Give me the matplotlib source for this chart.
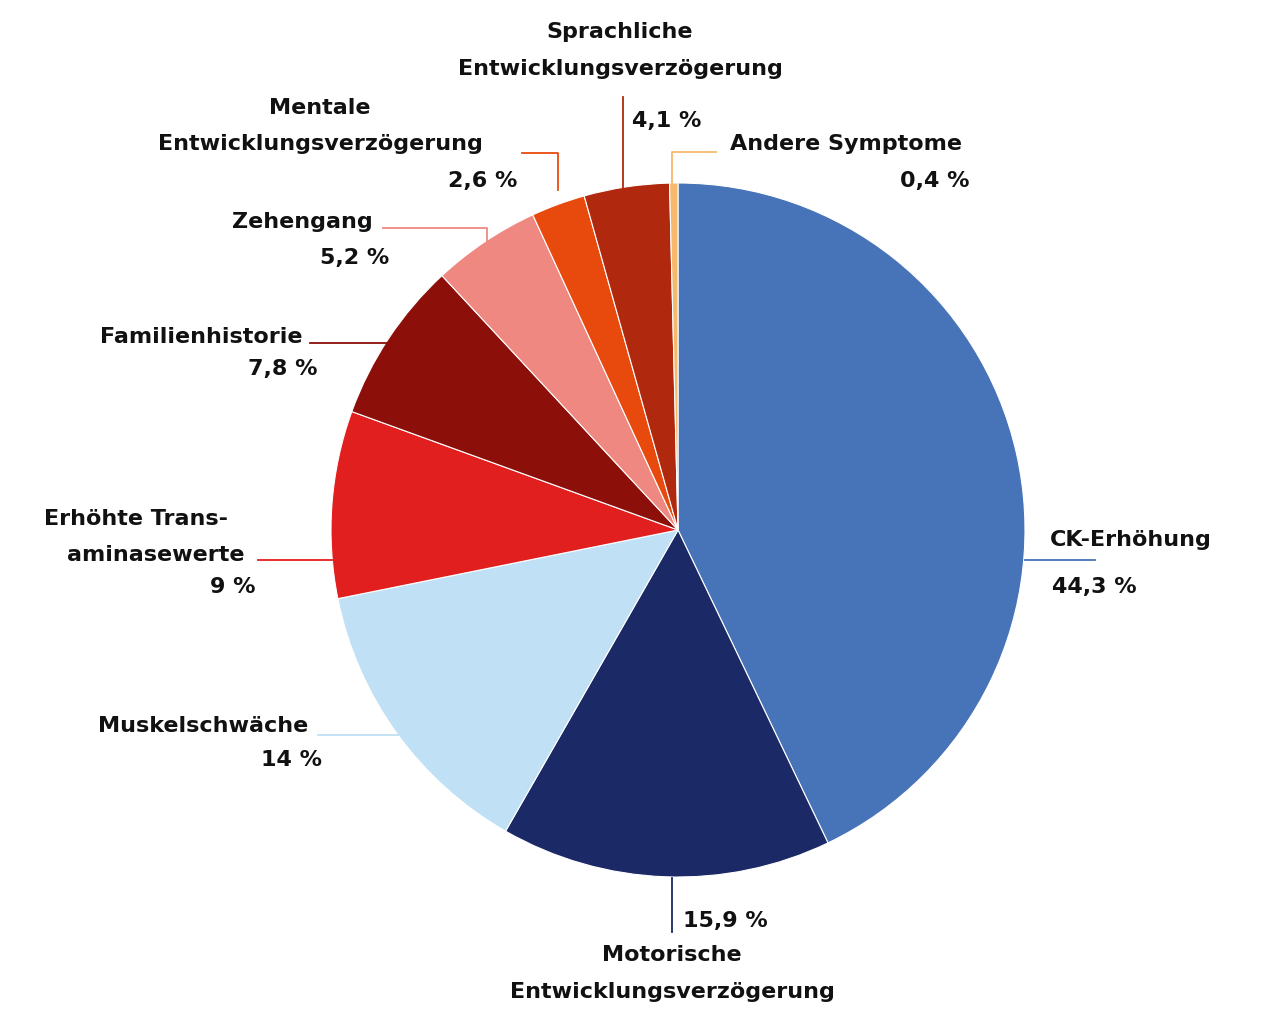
import matplotlib.pyplot as plt

# data
labels = ["CK-Erhöhung", "Motorische Entwicklungsverzögerung", "Muskelschwäche",
          "Erhöhte Transaminasewerte", "Familienhistorie", "Zehengang",
          "Mentale Entwicklungsverzögerung", "Sprachliche Entwicklungsverzögerung",
          "Andere Symptome"]
values = [44.3, 15.9, 14, 9, 7.8, 5.2, 2.6, 4.1, 0.4]
value_text = ["44,3 %", "15,9 %", "14 %", "9 %", "7,8 %", "5,2 %", "2,6 %", "4,1 %", "0,4 %"]
colors = ["#4773B8", "#1B2A66", "#BFE0F5", "#E21F1F", "#8C0F0A",
          "#F08882", "#E84A0E", "#B0290E", "#F5B96B"]

H = 1024
fig = plt.figure(figsize=(12.8, 10.24), dpi=100)
ax = fig.add_axes([0, 0, 1, 1])

ax.pie(values, colors=colors, startangle=90, counterclock=False,
       center=(678, H - 530), radius=347,
       wedgeprops=dict(edgecolor="white", linewidth=0.8))

ax.set_xlim(0, 1280)
ax.set_ylim(0, H)
ax.set_aspect("equal")
ax.axis("off")

fs = 16
def t(x, y, s, ha="left"):
    ax.text(x, H - y, s, ha=ha, va="center", fontsize=fs, fontweight="bold", color="#111111")

def line(pts, c):
    ax.plot([p[0] for p in pts], [H - p[1] for p in pts], color=c, lw=1.3)

# leader lines + labels (layout)
line([(1025, 560), (1095, 560)], colors[0])
t(1050, 540, "CK-Erhöhung"); t(1052, 587, value_text[0])

line([(672, 878), (672, 932)], colors[1])
t(683, 921, value_text[1]); t(672, 955, "Motorische", "center")
t(672, 992, "Entwicklungsverzögerung", "center")

line([(398, 735), (318, 735)], colors[2])
t(308, 726, "Muskelschwäche", "right"); t(322, 760, value_text[2], "right")

line([(332, 560), (258, 560)], colors[3])
t(44, 519, "Erhöhte Trans-"); t(245, 555, "aminasewerte", "right")
t(256, 587, value_text[3], "right")

line([(387, 343), (310, 343)], colors[4])
t(303, 337, "Familienhistorie", "right"); t(318, 369, value_text[4], "right")

line([(487, 243), (487, 228), (383, 228)], colors[5])
t(373, 222, "Zehengang", "right"); t(389, 258, value_text[5], "right")

line([(558, 190), (558, 153), (522, 153)], colors[6])
t(320, 108, "Mentale", "center"); t(320, 144, "Entwicklungsverzögerung", "center")
t(517, 181, value_text[6], "right")

line([(623, 188), (623, 97)], colors[7])
t(620, 32, "Sprachliche", "center"); t(620, 69, "Entwicklungsverzögerung", "center")
t(632, 121, value_text[7])

line([(672, 184), (672, 152), (716, 152)], colors[8])
t(730, 144, "Andere Symptome"); t(970, 181, value_text[8], "right")

fig.savefig("out.png", dpi=100, facecolor="white")
